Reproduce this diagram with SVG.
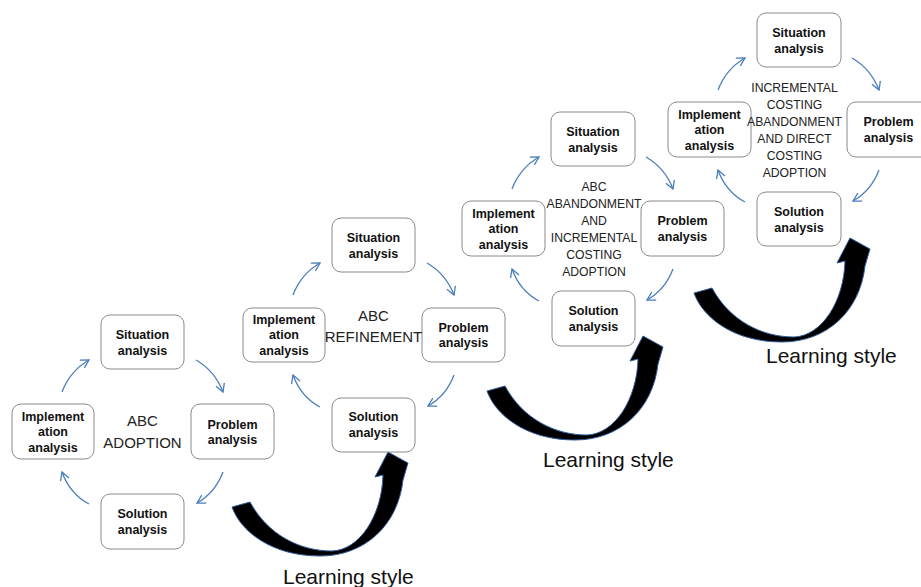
<svg xmlns="http://www.w3.org/2000/svg" xmlns:xlink="http://www.w3.org/1999/xlink" width="921" height="587" viewBox="0 0 921 587">
<style>
.box{fill:#fff;stroke:#8a8a8a;stroke-width:1}
.lbl{font-family:"Liberation Sans",Arial,sans-serif;font-weight:bold;font-size:12.5px;fill:#111;text-anchor:middle}
.mid{font-family:"Liberation Sans",Arial,sans-serif;font-size:15px;fill:#222;text-anchor:middle}
.mids{font-family:"Liberation Sans",Arial,sans-serif;font-size:12.2px;fill:#222;text-anchor:middle}
.conn{fill:none;stroke:#4a7ebb;stroke-width:1.3;marker-end:url(#chev)}
.big{fill:#000;stroke:#2e5d9e;stroke-width:1}
.ls{font-family:"Liberation Sans",Arial,sans-serif;font-size:21px;fill:#111}
</style>
<defs>
<marker id="chev" markerUnits="userSpaceOnUse" markerWidth="14" markerHeight="14" refX="0" refY="0" viewBox="-10 -7 12 14" orient="auto">
<path d="M-8,-4.5 L0,0 L-8,4.5" fill="none" stroke="#4a7ebb" stroke-width="1.3"/>
</marker>
<path id="bigArrow" d="M232,507 C240,530 270,556 320,556 C365,556 398,525 403,480 L408,463 L388,452 L375,477 L383,475 C382,515 360,550 332,551 C300,551 268,535 250,502 Z"/>
</defs>
<rect width="921" height="587" fill="#fff"/>

<g id="connectors">
<g id="cycle1-arrows">
<path class="conn" d="M62,392 Q70,371 89,360"/>
<path class="conn" d="M196,360 Q215,371 223,392"/>
<path class="conn" d="M223,472 Q215,493 197,503"/>
<path class="conn" d="M89,504 Q70,494 62,472"/>
</g>
<g id="cycle2-arrows" transform="translate(231,-97)">
<path class="conn" d="M62,392 Q70,371 89,360"/>
<path class="conn" d="M196,360 Q215,371 223,392"/>
<path class="conn" d="M223,472 Q215,493 197,503"/>
<path class="conn" d="M89,504 Q70,494 62,472"/>
</g>
<g id="cycle3-arrows" transform="translate(450,-203)">
<path class="conn" d="M62,392 Q70,371 89,360"/>
<path class="conn" d="M196,360 Q215,371 223,392"/>
<path class="conn" d="M223,472 Q215,493 197,503"/>
<path class="conn" d="M89,504 Q70,494 62,472"/>
</g>
<g id="cycle4-arrows" transform="translate(656,-302)">
<path class="conn" d="M62,392 Q70,371 89,360"/>
<path class="conn" d="M196,360 Q215,371 223,392"/>
<path class="conn" d="M223,472 Q215,493 197,503"/>
<path class="conn" d="M89,504 Q70,494 62,472"/>
</g>
<g id="learning-arrows">
<use xlink:href="#bigArrow" class="big"/>
<use xlink:href="#bigArrow" class="big" transform="translate(255,-116)"/>
<use xlink:href="#bigArrow" class="big" transform="translate(462,-214)"/>
</g>
</g>

<!-- Cycle 1 -->
<g id="c1-situation"><rect class="box" x="101" y="315" width="83" height="54" rx="9"/><text class="lbl" x="142.5" y="338.5">Situation</text><text class="lbl" x="142.5" y="354.5">analysis</text></g>
<g id="c1-implementation"><rect class="box" x="12" y="404" width="82" height="55" rx="9"/><text class="lbl" x="53" y="420.5">Implement</text><text class="lbl" x="53" y="436">ation</text><text class="lbl" x="53" y="451.5">analysis</text></g>
<g id="c1-problem"><rect class="box" x="191" y="404" width="83" height="55" rx="9"/><text class="lbl" x="232.5" y="428.5">Problem</text><text class="lbl" x="232.5" y="443.5">analysis</text></g>
<g id="c1-solution"><rect class="box" x="101" y="494" width="83" height="55" rx="9"/><text class="lbl" x="142.5" y="517.5">Solution</text><text class="lbl" x="142.5" y="533.5">analysis</text></g>
<g id="c1-label"><text class="mid" x="142.5" y="425.5">ABC</text><text class="mid" x="142.5" y="447.5">ADOPTION</text></g>

<!-- Cycle 2 -->
<g id="c2-situation"><rect class="box" x="332" y="218" width="83" height="54" rx="9"/><text class="lbl" x="373.5" y="241.5">Situation</text><text class="lbl" x="373.5" y="257.5">analysis</text></g>
<g id="c2-implementation"><rect class="box" x="243" y="308" width="82" height="54" rx="9"/><text class="lbl" x="284" y="323.5">Implement</text><text class="lbl" x="284" y="339">ation</text><text class="lbl" x="284" y="354.5">analysis</text></g>
<g id="c2-problem"><rect class="box" x="422" y="308" width="83" height="54" rx="9"/><text class="lbl" x="463.5" y="331.5">Problem</text><text class="lbl" x="463.5" y="346.5">analysis</text></g>
<g id="c2-solution"><rect class="box" x="332" y="398" width="83" height="54" rx="9"/><text class="lbl" x="373.5" y="421">Solution</text><text class="lbl" x="373.5" y="437">analysis</text></g>
<g id="c2-label"><text class="mid" x="373.5" y="320.5">ABC</text><text class="mid" x="373.5" y="341.5">REFINEMENT</text></g>

<!-- Cycle 3 -->
<g id="c3-situation"><rect class="box" x="551" y="112" width="84" height="54" rx="9"/><text class="lbl" x="593" y="135.5">Situation</text><text class="lbl" x="593" y="151.5">analysis</text></g>
<g id="c3-implementation"><rect class="box" x="462" y="201" width="83" height="55" rx="9"/><text class="lbl" x="503.5" y="217.5">Implement</text><text class="lbl" x="503.5" y="233">ation</text><text class="lbl" x="503.5" y="248.5">analysis</text></g>
<g id="c3-problem"><rect class="box" x="641" y="201" width="83" height="55" rx="9"/><text class="lbl" x="682.5" y="225">Problem</text><text class="lbl" x="682.5" y="240.5">analysis</text></g>
<g id="c3-solution"><rect class="box" x="552" y="291" width="83" height="55" rx="9"/><text class="lbl" x="593.5" y="314.5">Solution</text><text class="lbl" x="593.5" y="330.5">analysis</text></g>
<g id="c3-label"><text class="mids" x="594" y="190.5">ABC</text><text class="mids" x="594" y="207.5">ABANDONMENT</text><text class="mids" x="594" y="224.5">AND</text><text class="mids" x="594" y="241.5">INCREMENTAL</text><text class="mids" x="594" y="258.5">COSTING</text><text class="mids" x="594" y="276">ADOPTION</text></g>

<!-- Cycle 4 -->
<g id="c4-situation"><rect class="box" x="757" y="13" width="84" height="54" rx="9"/><text class="lbl" x="799" y="36.5">Situation</text><text class="lbl" x="799" y="52.5">analysis</text></g>
<g id="c4-implementation"><rect class="box" x="668" y="102" width="83" height="55" rx="9"/><text class="lbl" x="709.5" y="118.5">Implement</text><text class="lbl" x="709.5" y="134">ation</text><text class="lbl" x="709.5" y="149.5">analysis</text></g>
<g id="c4-problem"><rect class="box" x="847" y="102" width="83" height="55" rx="9"/><text class="lbl" x="888.5" y="126">Problem</text><text class="lbl" x="888.5" y="141.5">analysis</text></g>
<g id="c4-solution"><rect class="box" x="757" y="192" width="84" height="54" rx="9"/><text class="lbl" x="799" y="215.5">Solution</text><text class="lbl" x="799" y="231.5">analysis</text></g>
<g id="c4-label"><text class="mids" x="794.5" y="91.5">INCREMENTAL</text><text class="mids" x="794.5" y="108.5">COSTING</text><text class="mids" x="794.5" y="125.5">ABANDONMENT</text><text class="mids" x="794.5" y="142.5">AND DIRECT</text><text class="mids" x="794.5" y="160">COSTING</text><text class="mids" x="794.5" y="177">ADOPTION</text></g>

<!-- Learning style labels -->
<g id="ls1"><text class="ls" x="283" y="584">Learning style</text></g>
<g id="ls2"><text class="ls" x="543" y="467">Learning style</text></g>
<g id="ls3"><text class="ls" x="766" y="363">Learning style</text></g>
</svg>
